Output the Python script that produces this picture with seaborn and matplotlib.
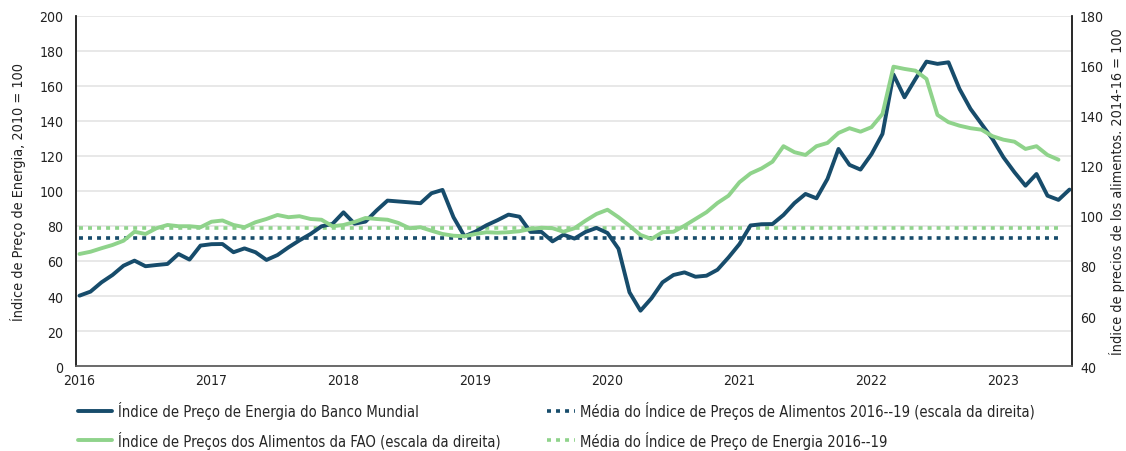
import numpy as np
import pandas as pd
import matplotlib.pyplot as plt
import seaborn as sns
from matplotlib import font_manager

# monthly values, Jan 2016 onwards
energy = [40.2, 42.5, 47.8, 52.0, 57.3, 60.2, 57.0, 57.7, 58.3, 64.0, 60.8, 68.8,
          69.6, 69.7, 65.0, 67.2, 65.0, 60.6, 63.4, 67.8, 71.8, 75.4, 79.8, 81.2,
          87.8, 81.3, 82.5, 88.8, 94.5, 94.0, 93.5, 93.0, 98.7, 100.6, 85.0, 74.1,
          76.8, 80.4, 83.3, 86.5, 85.3, 76.6, 76.6, 71.2, 75.0, 72.8, 76.6, 78.9,
          76.0, 67.0, 42.1, 31.6, 38.7, 47.8, 52.0, 53.5, 51.0, 51.6, 55.0, 62.0,
          69.7, 80.3, 81.0, 81.1, 86.3, 93.1, 98.3, 95.8, 106.9, 124.0, 114.9, 112.2,
          121.0, 132.6, 166.5, 153.5, 164.0, 173.9, 172.6, 173.5, 158.3, 146.9, 138.3, 129.7,
          119.2, 110.7, 103.0, 109.7, 97.3, 94.9, 100.8]

food = [84.8, 85.7, 87.1, 88.4, 90.1, 93.7, 92.8, 95.1, 96.4, 95.9, 95.9, 95.5,
        97.7, 98.2, 96.4, 95.5, 97.5, 98.8, 100.4, 99.5, 99.9, 98.8, 98.5, 95.9,
        96.4, 97.6, 99.2, 98.8, 98.5, 97.2, 95.1, 95.5, 94.1, 92.8, 92.1, 91.9,
        92.8, 93.5, 93.3, 93.5, 93.9, 94.8, 95.3, 95.1, 93.7, 95.1, 98.1, 100.8,
        102.5, 99.5, 96.1, 92.4, 90.8, 93.5, 93.7, 96.1, 98.8, 101.5, 105.2, 108.1,
        113.5, 117.0, 119.0, 121.7, 127.9, 125.5, 124.4, 127.9, 129.2, 133.2, 135.1, 133.7,
        135.5, 140.8, 159.7, 158.8, 158.1, 154.8, 140.4, 137.5, 136.1, 135.1, 134.5, 131.9,
        130.5, 129.7, 126.8, 127.9, 124.4, 122.5]

avg_left = 78.7    # green dotted, left scale
avg_right = 91.2   # dark dotted, right scale

labels = ["Índice de Preço de Energia do Banco Mundial",
          "Índice de Preços dos Alimentos da FAO (escala da direita)",
          "Média do Índice de Preços de Alimentos 2016--19 (escala da direita)",
          "Média do Índice de Preço de Energia 2016--19"]
years = list(range(2016, 2024))
ylab_left = "Índice de Preço de Energia, 2010 = 100"
ylab_right = "Índice de precios de los alimentos. 2014-16 = 100"

dark = "#174c6b"
green = "#8fd38b"
txt = "#222222"


def to_years(n):
    d = pd.date_range("2016-01-01", periods=n, freq="MS")
    return d.year + (d.month - 1) / 12


x_energy = to_years(len(energy))
x_food = to_years(len(food))

sns.set_theme(style="white")

# prefer a condensed face if one is installed
stretch = "normal"
fam = "Liberation Sans"
for f in font_manager.fontManager.ttflist:
    if "Narrow" in f.name or "Condensed" in f.name:
        fam = f.name
        break
    if f.stretch in ("condensed", "semi-condensed") and f.name in ("DejaVu Sans", "Noto Sans", "Open Sans"):
        fam, stretch = f.name, f.stretch
        break
plt.rcParams["font.family"] = [fam, "DejaVu Sans"]
plt.rcParams["font.stretch"] = stretch

fig = plt.figure(figsize=(11.26, 4.52), dpi=100)
renderer = fig.canvas.get_renderer()


def fit(s, target_px):
    t = fig.text(0, 0, s, fontsize=10)
    w = t.get_window_extent(renderer).width
    t.remove()
    return 10 * target_px / w


fs_leg = fit(labels[1], 382)
fs_tick = fit("2016", 32)
fs_lab = fit(ylab_right, 327)

ax = fig.add_axes([0.0672, 0.188, 0.8846, 0.7746])
ax2 = ax.twinx()

dots = (0, (1.1, 1.4))
sns.lineplot(x=x_food, y=[avg_right] * len(food), ax=ax2, color=dark, linewidth=2.6,
             linestyle=dots, dash_capstyle="butt", label=labels[2], legend=False)
sns.lineplot(x=x_food, y=[avg_left] * len(food), ax=ax, color=green, linewidth=2.6,
             linestyle=dots, dash_capstyle="butt", label=labels[3], legend=False)
sns.lineplot(x=x_energy, y=energy, ax=ax, color=dark, linewidth=2.8,
             label=labels[0], legend=False)
sns.lineplot(x=x_food, y=food, ax=ax2, color=green, linewidth=2.8,
             label=labels[1], legend=False)

ax.set_xlim(2015.971, 2023.517)
ax.set_ylim(0, 200)
ax2.set_ylim(40, 180)
ax.set_yticks(range(0, 201, 20))
ax2.set_yticks(range(40, 181, 20))
ax.set_xticks(years)
ax.set_xticklabels([str(y) for y in years])

ax.yaxis.grid(True, color="#e8e8e8", linewidth=1.4)
ax.set_axisbelow(True)

for a in (ax, ax2):
    a.spines["top"].set_visible(False)
    a.spines["left"].set_color(txt)
    a.spines["right"].set_color(txt)
    a.spines["bottom"].set_color("#666666")
    for s in ("left", "right", "bottom"):
        a.spines[s].set_linewidth(1.1)

ax.tick_params(axis="y", length=0, pad=9, labelsize=fs_tick, labelcolor=txt)
ax.tick_params(axis="x", length=0, pad=5, labelsize=fs_tick, labelcolor=txt)
ax2.tick_params(axis="y", length=0, pad=6, labelsize=fs_tick, labelcolor=txt)

ax.set_ylabel(ylab_left, fontsize=fs_lab, color=txt)
ax2.set_ylabel(ylab_right, fontsize=fs_lab, color=txt, rotation=90)
ax.set_xlabel("")
ax.yaxis.set_label_coords(-0.05, 0.5)
ax2.yaxis.set_label_coords(1.0375, 0.5)

h1, l1 = ax.get_legend_handles_labels()
h2, l2 = ax2.get_legend_handles_labels()
hd = dict(zip(l1 + l2, h1 + h2))

leg_kw = dict(loc="center left", frameon=False, fontsize=fs_leg, handletextpad=0.4,
              labelspacing=0.75, borderaxespad=0, borderpad=0)
fig.legend([hd[labels[0]], hd[labels[1]]], labels[:2], bbox_to_anchor=(0.0693, 0.0575),
           handlelength=2.3, **leg_kw)
fig.legend([hd[labels[2]], hd[labels[3]]], labels[2:], bbox_to_anchor=(0.4854, 0.0575),
           handlelength=1.9, **leg_kw)

fig.savefig("out.png", dpi=100)
